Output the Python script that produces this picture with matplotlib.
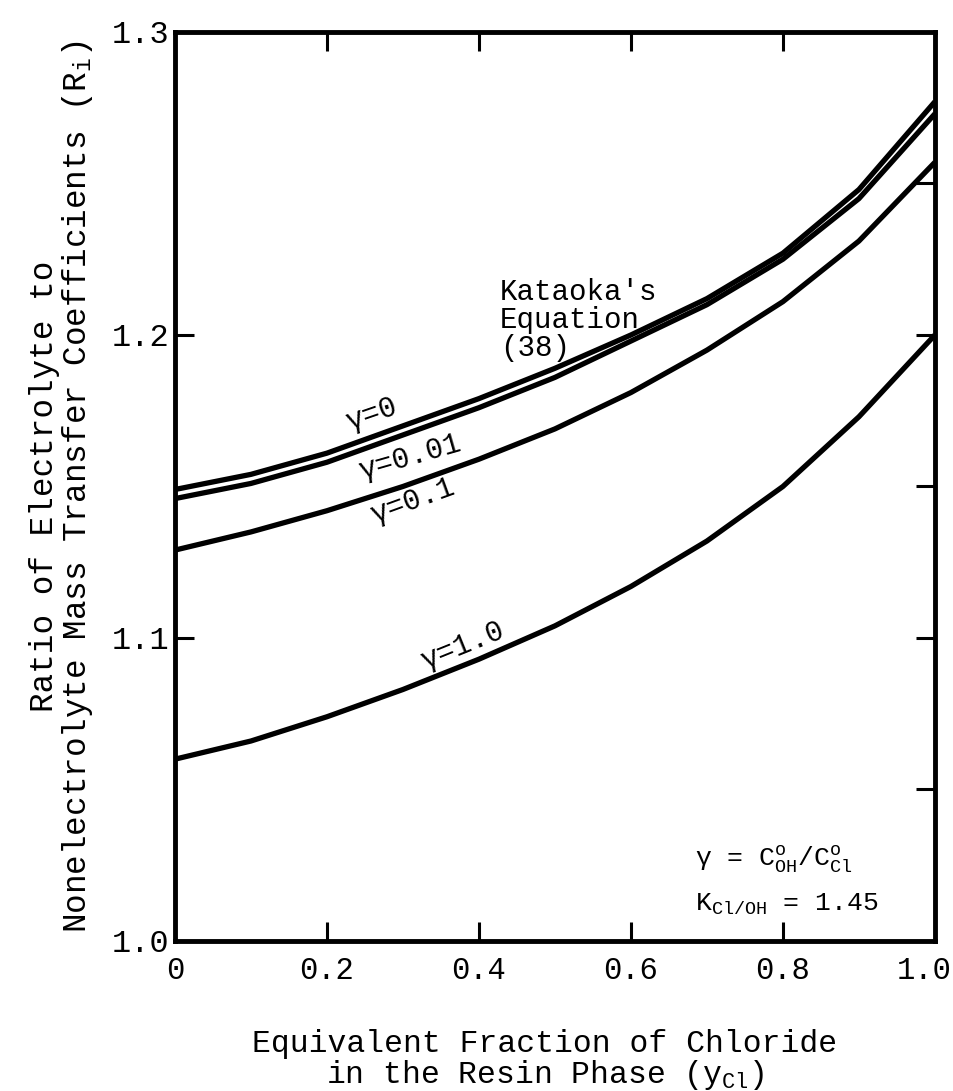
import matplotlib
matplotlib.use("Agg")
import matplotlib.pyplot as plt
import matplotlib.transforms as mtransforms

plt.rcParams["font.family"] = ["Liberation Mono", "DejaVu Sans"]
plt.rcParams["mathtext.fontset"] = "custom"
plt.rcParams["mathtext.rm"] = "Liberation Mono"
plt.rcParams["mathtext.it"] = "Liberation Mono"

# equivalent fraction of chloride in the resin phase
y_cl = [0.0, 0.1, 0.2, 0.3, 0.4, 0.5, 0.6, 0.7, 0.8, 0.9, 1.0]

# ratio R_i for each gamma = C_OH / C_Cl
r_gamma_0 = [1.149, 1.154, 1.161, 1.170, 1.179, 1.189, 1.200, 1.212, 1.227, 1.248, 1.277]
r_gamma_001 = [1.146, 1.151, 1.158, 1.167, 1.176, 1.186, 1.198, 1.210, 1.225, 1.245, 1.273]
r_gamma_01 = [1.129, 1.135, 1.142, 1.150, 1.159, 1.169, 1.181, 1.195, 1.211, 1.231, 1.257]
r_gamma_1 = [1.060, 1.066, 1.074, 1.083, 1.093, 1.104, 1.117, 1.132, 1.150, 1.173, 1.200]

x_ticks = [0.0, 0.2, 0.4, 0.6, 0.8, 1.0]
x_tick_labels = ["0", "0.2", "0.4", "0.6", "0.8", "1.0"]
y_ticks = [1.0, 1.1, 1.2, 1.3]
y_tick_labels = ["1.0", "1.1", "1.2", "1.3"]
y_minor = [1.05, 1.15, 1.25]

fig = plt.figure(figsize=(9.54, 10.91), dpi=100)
ax = fig.add_axes([0.1834, 0.1375, 0.7966, 0.8332])

for r in (r_gamma_0, r_gamma_001, r_gamma_01, r_gamma_1):
    ax.plot(y_cl, r, color="black", lw=3.8, solid_capstyle="butt",
            solid_joinstyle="round")

ax.set_xlim(0, 1.0)
ax.set_ylim(1.0, 1.3)
ax.set_xticks(x_ticks)
ax.set_xticklabels(x_tick_labels)
ax.set_yticks(y_ticks)
ax.set_yticklabels(y_tick_labels)
ax.set_yticks(y_minor, minor=True)

for s in ax.spines.values():
    s.set_linewidth(3.5)

ax.tick_params(which="major", direction="in", length=14, width=2.2,
               top=True, right=True, colors="black")
ax.tick_params(axis="x", which="major", pad=11, labelsize=22)
ax.tick_params(axis="y", which="major", pad=4, labelsize=23)
ax.tick_params(which="minor", direction="in", length=14, width=2.2,
               left=False, right=True)

# pull the last x label in so it stays on the page
last = ax.get_xticklabels()[-1]
last.set_transform(last.get_transform()
                   + mtransforms.ScaledTranslation(-8 / 72, 0, fig.dpi_scale_trans))

# curve labels
ax.text(0.258, 1.1740, "γ=0", fontsize=21, rotation=19, ha="center", va="center")
ax.text(0.309, 1.1596, "γ=0.01", fontsize=21, rotation=16, ha="center", va="center")
ax.text(0.313, 1.1452, "γ=0.1", fontsize=21, rotation=20, ha="center", va="center")
ax.text(0.378, 1.0975, "γ=1.0", fontsize=21, rotation=22, ha="center", va="center")

ax.text(0.428, 1.2050, "Kataoka's\nEquation\n(38)", fontsize=21,
        ha="left", va="center", linespacing=1.0)

ax.text(0.684, 1.027, r"γ = $\mathregular{C^{o}_{OH}/C^{o}_{Cl}}$",
        fontsize=19, ha="left", va="center")
ax.text(0.684, 1.012, r"$\mathregular{K_{Cl/OH}}$ = 1.45",
        fontsize=19, ha="left", va="center")

ax.set_xlabel("Equivalent Fraction of Chloride\nin the Resin Phase ($\\mathregular{y_{Cl}}$)",
              fontsize=22.6, linespacing=0.95)
ax.xaxis.set_label_coords(0.487, -0.097)
ax.set_ylabel("Ratio of Electrolyte to\nNonelectrolyte Mass Transfer Coefficients ($\\mathregular{R_i}$)",
              fontsize=23.5, labelpad=12, linespacing=1.0)

fig.savefig("out.png", dpi=100, facecolor="white")
